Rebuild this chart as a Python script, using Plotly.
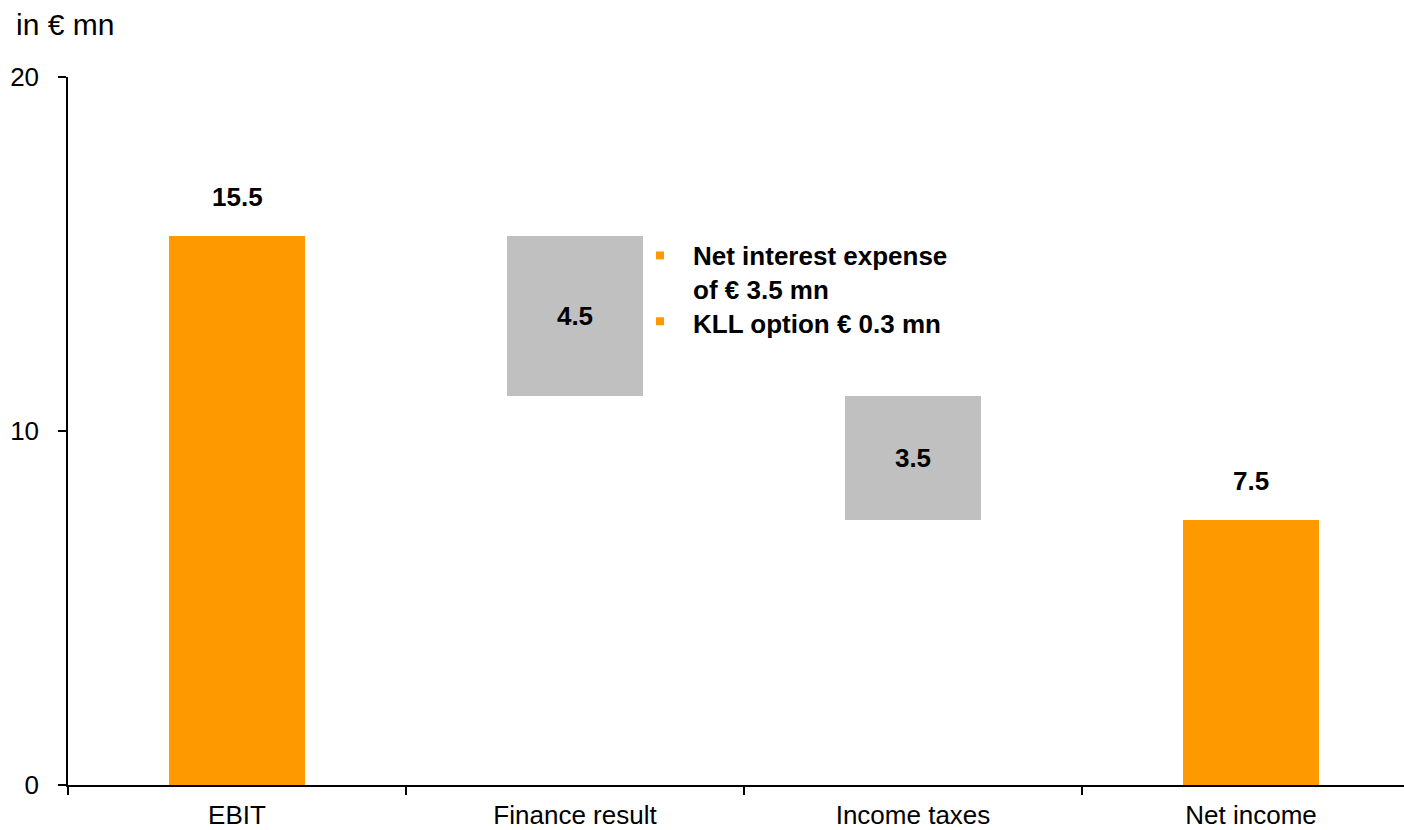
import plotly.graph_objects as go

# Bridge from EBIT to net income (in € mn)
categories = ["EBIT", "Finance result", "Income taxes", "Net income"]
amounts = [15.5, 4.5, 3.5, 7.5]          # absolute size of each step
step_kind = ["total", "minus", "minus", "total"]
finance_notes = ["Net interest expense<br>of € 3.5 mn", "KLL option € 0.3 mn"]
unit_label = "in € mn"
y_ticks = [0, 10, 20]

ORANGE = "#FF9900"
GREY = "#C0C0C0"
FONT = "Liberation Sans, Arial, sans-serif"

# Floating bases for the deduction steps
bases = []
running = 0.0
for amt, kind in zip(amounts, step_kind):
    if kind == "total":
        bases.append(0.0)
        running = amt
    else:
        running -= amt
        bases.append(running)

colors = [ORANGE if k == "total" else GREY for k in step_kind]

fig = go.Figure()
fig.add_trace(go.Bar(
    x=categories,
    y=amounts,
    base=bases,
    width=0.4,
    marker=dict(color=colors, line=dict(width=0)),
    text=[f"{a:.1f}" if k == "minus" else "" for a, k in zip(amounts, step_kind)],
    textposition="inside",
    insidetextanchor="middle",
    textfont=dict(family=FONT, size=26, color="black", weight="bold"),
    hoverinfo="skip",
))

# Value labels above the totals
for cat, amt, kind in zip(categories, amounts, step_kind):
    if kind == "total":
        fig.add_annotation(
            x=cat, y=amt, xref="x", yref="y",
            text=f"<b>{amt:.1f}</b>", showarrow=False,
            yanchor="bottom", yshift=22,
            font=dict(family=FONT, size=26, color="black"),
        )

# Notes next to the finance result step, with square orange bullets
fig.add_annotation(
    x=(691 - 68) / 1336, xref="paper", y=15.5, yref="y",
    xanchor="left", yanchor="top", yshift=-3, align="left",
    text="<b>" + "<br>".join(finance_notes) + "</b>",
    showarrow=False,
    font=dict(family=FONT, size=26, color="black"),
)
for yv in (14.96, 13.1):
    fig.add_shape(
        type="rect", xref="paper", yref="y",
        xsizemode="pixel", ysizemode="pixel",
        xanchor=(660 - 68) / 1336, yanchor=yv,
        x0=-4, x1=4, y0=-4, y1=4,
        fillcolor=ORANGE, line=dict(width=0),
    )

# Unit label
fig.add_annotation(
    x=(14 - 68) / 1336, xref="paper", y=1 + (77 - 24) / 710, yref="paper",
    xanchor="left", yanchor="middle", text=unit_label, showarrow=False,
    font=dict(family=FONT, size=30, color="black"),
)

fig.update_layout(
    width=1404, height=830,
    margin=dict(l=68, r=0, t=77, b=43),
    paper_bgcolor="white", plot_bgcolor="white",
    showlegend=False,
    font=dict(family=FONT, size=26, color="black"),
    bargap=0,
)
fig.update_xaxes(
    type="category",
    range=[-0.5, -0.5 + 1336 / 338],
    showline=True, linecolor="black", linewidth=1.5,
    ticks="outside", tickson="boundaries", ticklen=8, tickcolor="black", tickwidth=1.5,
    ticklabelstandoff=6,
    showgrid=False, zeroline=False,
    tickfont=dict(family=FONT, size=26, color="black"),
)
fig.update_yaxes(
    range=[0, 20], tickvals=y_ticks,
    showline=True, linecolor="black", linewidth=1.5,
    ticks="outside", ticklen=8, tickcolor="black", tickwidth=1.5,
    ticklabelstandoff=14,
    showgrid=False, zeroline=False,
    tickfont=dict(family=FONT, size=26, color="black"),
)

fig.write_html("out.html")
